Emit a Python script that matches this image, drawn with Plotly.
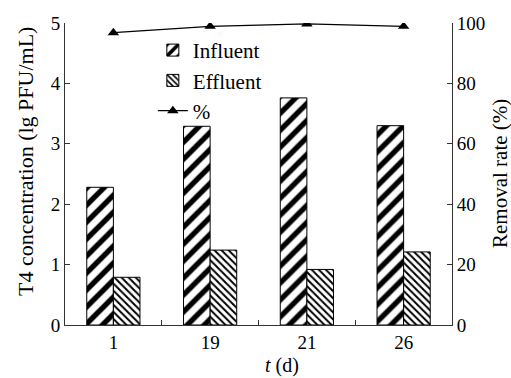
import plotly.graph_objects as go

days = ["1", "19", "21", "26"]
influent = [2.28, 3.29, 3.76, 3.30]
effluent = [0.79, 1.24, 0.92, 1.21]
removal = [96.8, 98.9, 99.7, 98.9]

FONT = "Liberation Serif, Times New Roman, serif"
AX = "#333333"

fig = go.Figure()
fig.add_trace(go.Bar(
    x=days, y=influent, name="Influent",
    marker=dict(color="white", line=dict(color="black", width=1),
                pattern=dict(shape="/", size=12, solidity=0.45, fgcolor="black", bgcolor="white",
                             fillmode="replace", fgopacity=1)),
))
fig.add_trace(go.Bar(
    x=days, y=effluent, name="Effluent",
    marker=dict(color="white", line=dict(color="black", width=1),
                pattern=dict(shape="\\", size=5, solidity=0.4, fgcolor="black", bgcolor="white",
                             fillmode="replace", fgopacity=1)),
))
fig.add_trace(go.Scatter(
    x=days, y=removal, name="%", yaxis="y2", mode="lines+markers",
    line=dict(color="black", width=1.2),
    marker=dict(symbol="triangle-up", size=10, color="black"),
))

fig.update_layout(
    width=511, height=378,
    margin=dict(l=65, r=59, t=23, b=53, autoexpand=False),
    paper_bgcolor="white", plot_bgcolor="white",
    font=dict(family=FONT, size=19, color="black"),
    barmode="group", bargap=0.45, bargroupgap=0,
    showlegend=True,
    legend=dict(x=0.227, y=0.977, xanchor="left", yanchor="top",
                bgcolor="rgba(0,0,0,0)", font=dict(family=FONT, size=21),
                traceorder="normal"),
    xaxis=dict(
        type="category", showline=True, linecolor=AX, linewidth=1, automargin=False,
        ticks="inside", tickson="boundaries", ticklen=5, tickcolor=AX,
        showgrid=False, zeroline=False,
    ),
    yaxis=dict(
        range=[0, 5], tickvals=[0, 1, 2, 3, 4, 5], showline=True, linecolor=AX, linewidth=1,
        automargin=False,
        ticks="inside", ticklen=5, tickcolor=AX, showgrid=False, zeroline=False,
    ),
    yaxis2=dict(
        range=[0, 100], tickvals=[0, 20, 40, 60, 80, 100], overlaying="y", side="right",
        automargin=False,
        showline=True, linecolor=AX, linewidth=1, ticks="inside", ticklen=5, tickcolor=AX,
        showgrid=False, zeroline=False,
    ),
    annotations=[
        dict(text="<i>t</i> (d)", xref="paper", yref="paper", x=0.5, y=0,
             xanchor="center", yanchor="middle", xshift=23, yshift=-40,
             showarrow=False, font=dict(family=FONT, size=20)),
        dict(text="T4 concentration (lg PFU/mL)", xref="paper", yref="paper", x=0, y=0.5,
             xanchor="center", yanchor="middle", xshift=-40, yshift=12, textangle=-90,
             showarrow=False, font=dict(family=FONT, size=22)),
        dict(text="Removal rate (%)", xref="paper", yref="paper", x=1, y=0.5,
             xanchor="center", yanchor="middle", xshift=48, yshift=0, textangle=-90,
             showarrow=False, font=dict(family=FONT, size=21)),
    ],
)

fig.write_html("out.html", config={"displayModeBar": False},
               post_script="document.body.style.margin='0';document.body.style.overflow='hidden';")
